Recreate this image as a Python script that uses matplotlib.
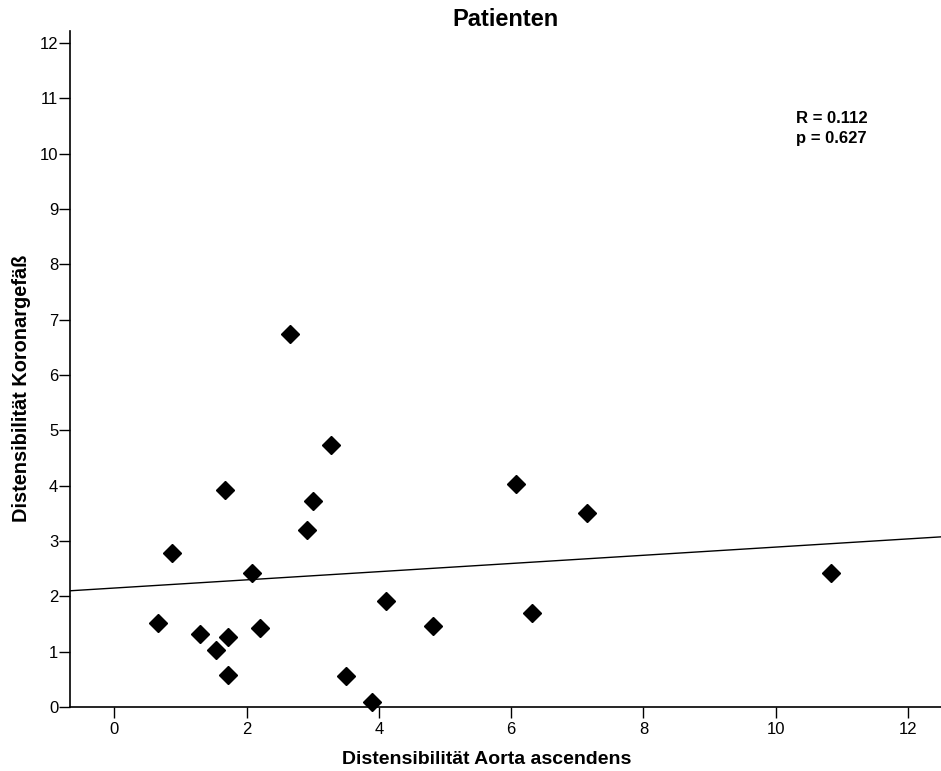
import matplotlib.pyplot as plt
import numpy as np

plt.rcParams['font.family'] = ['Liberation Sans', 'DejaVu Sans']

# values
dist_aorta = [0.66, 0.87, 1.30, 1.54, 1.72, 1.72, 1.68, 2.08, 2.20, 2.66, 2.91,
              3.00, 3.28, 3.50, 3.90, 4.11, 4.82, 6.08, 6.31, 7.14, 10.84]
dist_koronar = [1.52, 2.78, 1.32, 1.03, 1.27, 0.58, 3.92, 2.42, 1.43, 6.74, 3.20,
                3.72, 4.74, 0.56, 0.09, 1.92, 1.46, 4.03, 1.70, 3.51, 2.42]
fit_intercept = 2.15
fit_slope = 0.074
r_text = "R = 0.112\np = 0.627"

fig = plt.figure(figsize=(9.41, 7.71), dpi=100)
ax = fig.add_axes([0.0744, 0.083, 0.9256, 0.877])

xlim = (-0.67, 12.5)
xx = np.array(xlim)
ax.plot(xx, fit_intercept + fit_slope * xx, color='black', lw=1)
ax.plot(dist_aorta, dist_koronar, linestyle='none', marker='D', ms=9.5,
        color='black', clip_on=False)

ax.set_xlim(*xlim)
ax.set_ylim(0, 12.22)
ax.set_xticks(range(0, 13, 2))
ax.set_yticks(range(0, 13))
ax.spines['top'].set_visible(False)
ax.spines['right'].set_visible(False)
ax.spines['left'].set_linewidth(1.2)
ax.spines['bottom'].set_linewidth(1.2)
ax.tick_params(length=8, width=1, labelsize=12)
ax.tick_params(axis='x', pad=3)
ax.tick_params(axis='y', pad=0.5)

ax.text(10.31, 10.45, r_text, fontsize=12, fontweight='bold', va='center',
        linespacing=1.45)

ax.set_title("Patienten", fontsize=17, fontweight='bold', pad=3)
ax.set_xlabel("Distensibilität Aorta ascendens", fontsize=14, fontweight='bold',
              labelpad=10, x=0.478)
ax.set_ylabel("Distensibilität Koronargefäß", fontsize=14.4, fontweight='bold',
              labelpad=6, y=0.472)

fig.savefig("out.png", dpi=100)
